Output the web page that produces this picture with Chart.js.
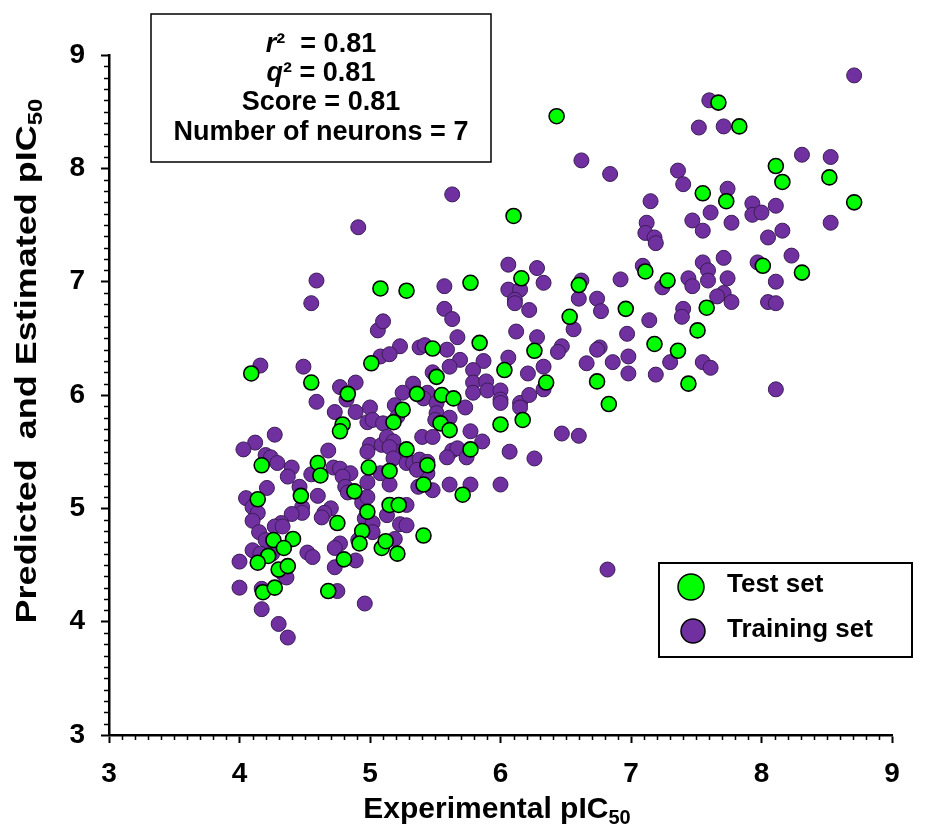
<!DOCTYPE html>
<html>
<head>
<meta charset="utf-8">
<script src="https://cdn.jsdelivr.net/npm/chart.js@4.4.1/dist/chart.umd.min.js"></script>
<style>
  html, body { margin: 0; padding: 0; background: #fff; }
  canvas { display: block; }
</style>
</head>
<body>
<canvas id="chart" width="933" height="830"></canvas>
<script>
// Axis ticks
const xTickValues = [3, 4, 5, 6, 7, 8, 9];
const yTickValues = [3, 4, 5, 6, 7, 8, 9];

// Test set: experimental vs predicted pIC50
const testX = [4.09, 4.55, 4.83, 5.01, 4.79, 4.77, 4.17, 4.60, 4.62, 4.99, 4.88, 4.14, 4.47, 4.75, 4.98, 4.94, 4.92, 5.09, 5.12, 4.26,
  4.41, 4.34, 4.22, 4.14, 4.30, 4.37, 4.80, 4.18, 4.27, 4.68, 5.08, 5.28, 5.77, 6.16, 5.84, 6.26, 5.48, 6.03, 5.51, 5.36,
  5.55, 5.64, 5.25, 5.18, 5.54, 5.61, 6.00, 6.17, 5.28, 5.77, 5.44, 5.15, 5.41, 5.71, 5.15, 5.22, 5.41, 5.21, 6.43, 7.55,
  6.60, 7.11, 7.28, 6.96, 6.53, 7.58, 7.51, 7.18, 7.36, 7.44, 6.35, 6.74, 6.83, 6.10, 7.67, 7.83, 8.11, 8.16, 8.52, 8.71,
  7.73, 8.01, 8.31];
const testY = [6.19, 6.11, 6.01, 6.28, 5.74, 5.68, 5.38, 5.40, 5.29, 5.36, 5.15, 5.08, 5.11, 4.87, 4.97, 4.80, 4.69, 4.65, 4.71, 4.72,
  4.73, 4.65, 4.58, 4.52, 4.46, 4.49, 4.55, 4.26, 4.30, 4.27, 6.94, 6.92, 6.99, 7.03, 6.46, 6.39, 6.41, 6.22, 6.16, 6.01,
  6.00, 5.97, 5.87, 5.76, 5.75, 5.69, 5.74, 5.78, 5.52, 5.52, 5.38, 5.33, 5.21, 5.12, 5.03, 5.03, 4.76, 4.60, 8.46, 7.78,
  6.97, 7.09, 7.01, 6.76, 6.69, 6.77, 6.57, 6.45, 6.39, 6.10, 6.11, 6.12, 5.92, 7.58, 8.58, 8.37, 8.02, 7.88, 7.92, 7.70,
  7.71, 7.14, 7.08];

// Training set: experimental vs estimated pIC50
const trainX = [4.16, 4.49, 4.59, 4.77, 4.89, 4.82, 5.06, 5.08, 4.73, 4.89, 5.00, 4.98, 5.02, 4.27, 4.12, 4.03, 4.20, 4.24, 4.29, 4.40,
  4.37, 4.68, 4.55, 4.72, 4.77, 4.85, 4.79, 5.00, 4.98, 5.09, 4.98, 4.81, 4.83, 4.21, 4.05, 4.10, 4.14, 4.10, 4.15, 4.46,
  4.48, 4.48, 4.40, 4.60, 4.70, 4.65, 4.63, 4.94, 4.98, 4.96, 5.02, 5.02, 4.91, 4.32, 4.27, 4.33, 4.20, 4.10, 4.16, 4.25,
  4.00, 4.33, 4.36, 4.52, 4.56, 4.77, 4.73, 4.89, 4.73, 4.00, 4.17, 4.75, 4.17, 4.30, 4.37, 4.96,
  4.91, 4.59, 4.55, 5.63,
  6.06, 6.28, 6.06, 6.15, 6.11, 6.11, 6.22, 5.57, 5.57, 5.63, 5.10, 5.67, 6.12, 6.28, 5.23, 5.15, 5.38, 5.42, 5.59, 5.69,
  5.87, 6.06, 6.21, 5.79, 5.48, 5.61, 5.79, 5.89, 5.79, 5.90, 6.00, 6.00, 6.00, 6.15, 6.15, 6.22, 6.33, 5.33, 5.25, 5.44,
  5.41, 5.51, 5.73, 5.19, 5.21, 5.10, 5.51, 5.50, 5.61, 5.77, 5.86, 6.07, 6.26, 5.40, 5.48, 5.13, 5.18, 5.23, 5.15, 5.63,
  5.67, 5.59, 5.74, 5.18, 5.28, 5.33, 5.38, 5.44, 5.44, 5.36, 5.08, 5.15, 5.37, 5.48, 5.61, 5.77, 6.00, 5.28,
  5.13, 5.23, 5.28, 5.19,
  6.62, 6.84, 7.60, 7.52, 7.36, 7.40, 7.15, 7.12, 7.11, 7.18, 7.19, 7.47, 7.55, 7.61, 7.55, 7.59, 7.59, 6.33, 6.62, 6.60,
  6.74, 6.77, 6.92, 7.09, 7.24, 7.44, 7.47, 7.14, 6.97, 6.56, 7.40, 7.39, 6.47, 6.44, 6.76, 6.74, 6.66, 6.86, 6.98, 6.98,
  7.19, 7.30, 7.55, 7.61, 6.47, 6.60, 6.33, 6.82,
  8.71, 7.71, 8.31, 8.53, 8.53, 7.74, 7.77, 7.93, 7.93, 8.00, 8.11, 8.16, 8.05, 8.23, 7.97, 8.11, 7.71, 7.74, 7.71, 7.66,
  7.77, 8.05, 8.11, 8.11];
const trainY = [6.26, 6.25, 5.94, 6.07, 6.11, 5.96, 6.57, 6.34, 5.85, 5.85, 5.89, 5.76, 5.78, 5.65, 5.58, 5.52, 5.47, 5.45, 5.40, 5.36,
  5.28, 5.51, 5.30, 5.36, 5.35, 5.31, 5.28, 5.56, 5.50, 5.56, 5.23, 5.19, 5.14, 5.18, 5.09, 5.01, 4.96, 4.89, 4.79, 5.19,
  5.01, 4.96, 4.95, 5.11, 5.00, 4.96, 4.92, 5.05, 5.10, 4.91, 4.87, 4.79, 4.72, 4.87, 4.84, 4.84, 4.72, 4.63, 4.60, 4.60,
  4.53, 4.43, 4.39, 4.61, 4.57, 4.69, 4.65, 4.54, 4.48, 4.30, 4.29, 4.27, 4.11, 3.98, 3.86, 4.16,
  7.48, 7.01, 6.81, 7.77,
  7.15, 7.12, 6.93, 6.93, 6.84, 6.81, 6.75, 6.96, 6.76, 6.67, 6.65, 6.51, 6.56, 6.51, 6.43, 6.36, 6.42, 6.44, 6.40, 6.31,
  6.30, 6.33, 6.19, 6.22, 6.20, 6.25, 6.11, 6.12, 6.02, 6.04, 6.04, 5.96, 5.93, 5.93, 5.89, 6.00, 6.05, 6.10, 6.02, 6.02,
  5.97, 5.93, 5.89, 5.91, 5.81, 5.75, 5.84, 5.78, 5.80, 5.68, 5.59, 5.50, 5.44, 5.63, 5.63, 5.63, 5.59, 5.50, 5.54, 5.51,
  5.53, 5.45, 5.45, 5.44, 5.40, 5.40, 5.43, 5.41, 5.31, 5.34, 5.31, 5.21, 5.19, 5.16, 5.21, 5.21, 5.21, 5.03,
  4.94, 4.86, 4.85, 4.73,
  8.07, 7.95, 8.60, 8.36, 7.98, 7.86, 7.71, 7.52, 7.43, 7.39, 7.34, 7.54, 7.45, 7.61, 7.17, 7.10, 7.01, 6.99, 7.01, 6.85,
  6.85, 6.74, 7.02, 7.14, 6.95, 7.03, 6.96, 6.66, 6.54, 6.58, 6.76, 6.69, 6.43, 6.38, 6.42, 6.40, 6.28, 6.29, 6.34, 6.19,
  6.18, 6.29, 6.29, 6.24, 5.66, 5.64, 6.25, 4.46,
  8.82, 8.37, 8.12, 8.10, 7.52, 7.82, 7.52, 7.69, 7.59, 7.61, 7.67, 7.45, 7.39, 7.23, 7.17, 7.00, 7.21, 7.03, 6.90, 6.87,
  6.82, 6.82, 6.81, 6.05];

// Statistics shown in the box
const statLines = [
  [{ t: 'r', italic: true }, { t: '\u00B2' }, { t: '  = 0.81' }],
  [{ t: 'q', italic: true }, { t: '\u00B2' }, { t: ' = 0.81' }],
  [{ t: 'Score = 0.81' }],
  [{ t: 'Number of neurons = 7' }]
];
const seriesNames = ['Test set', 'Training set'];
const xTitle = ['Experimental pIC', '50'];
const yTitle = ['Predicted  and Estimated pIC', '50'];

const FONT = '"Liberation Sans", Arial, sans-serif';
const GREEN = '#00FF00';
const PURPLE = '#7030A0';

const toPoints = (xs, ys) => xs.map((x, i) => ({ x, y: ys[i] }));

// Title text with subscript, drawn at current origin (centered)
function drawSubText(ctx, parts, size, subSize, subDrop) {
  ctx.font = 'bold ' + size + 'px ' + FONT;
  const w1 = ctx.measureText(parts[0]).width;
  ctx.font = 'bold ' + subSize + 'px ' + FONT;
  const w2 = ctx.measureText(parts[1]).width;
  const start = -(w1 + w2) / 2;
  ctx.textAlign = 'left';
  ctx.textBaseline = 'alphabetic';
  ctx.font = 'bold ' + size + 'px ' + FONT;
  ctx.fillText(parts[0], start, 0);
  ctx.font = 'bold ' + subSize + 'px ' + FONT;
  ctx.fillText(parts[1], start + w1, subDrop);
}

const decorations = {
  id: 'decorations',
  afterDraw(chart) {
    const ctx = chart.ctx;
    const xs = chart.scales.x, ys = chart.scales.y;
    ctx.save();
    ctx.fillStyle = '#000';
    ctx.strokeStyle = '#000';

    // minor ticks every 0.1
    ctx.lineWidth = 1.5;
    ctx.beginPath();
    for (let i = 31; i < 90; i++) {
      if (i % 10 === 0) continue;
      const px = Math.round(xs.getPixelForValue(i / 10)) + 0.5;
      ctx.moveTo(px, xs.top);
      ctx.lineTo(px, xs.top + 5);
      const py = Math.round(ys.getPixelForValue(i / 10)) + 0.5;
      ctx.moveTo(ys.right, py);
      ctx.lineTo(ys.right - 5, py);
    }
    ctx.stroke();

    // axis titles
    ctx.save();
    ctx.translate(497, 818);
    drawSubText(ctx, xTitle, 30, 20, 6);
    ctx.restore();

    ctx.save();
    ctx.translate(36, 361);
    ctx.rotate(-Math.PI / 2);
    ctx.scale(1.2, 1);
    drawSubText(ctx, yTitle, 30, 20, 6);
    ctx.restore();

    // statistics box
    ctx.fillStyle = '#fff';
    ctx.fillRect(151, 14, 340, 148);
    ctx.lineWidth = 1.5;
    ctx.strokeRect(151, 14, 340, 148);
    ctx.fillStyle = '#000';
    ctx.textBaseline = 'alphabetic';
    ctx.textAlign = 'left';
    const baselines = [52, 81, 110, 140];
    statLines.forEach((segs, li) => {
      const fontOf = s => (s.italic ? 'italic bold ' : 'bold ') + '27px ' + FONT;
      let total = 0;
      segs.forEach(s => { ctx.font = fontOf(s); total += ctx.measureText(s.t).width; });
      let x = 321 - total / 2;
      segs.forEach(s => {
        ctx.font = fontOf(s);
        ctx.fillText(s.t, x, baselines[li]);
        x += ctx.measureText(s.t).width;
      });
    });

    // legend
    ctx.fillStyle = '#fff';
    ctx.fillRect(659, 563, 253, 94);
    ctx.lineWidth = 2;
    ctx.strokeRect(659, 563, 253, 94);
    const ds = chart.data.datasets;
    const rows = [{ cx: 691, cy: 587, r: 13, ty: 585 }, { cx: 693, cy: 631, r: 12, ty: 630 }];
    rows.forEach((row, i) => {
      ctx.beginPath();
      ctx.arc(row.cx, row.cy, row.r, 0, Math.PI * 2);
      ctx.fillStyle = ds[i].backgroundColor;
      ctx.fill();
      ctx.lineWidth = 1.5;
      ctx.strokeStyle = '#000';
      ctx.stroke();
      ctx.fillStyle = '#000';
      ctx.font = 'bold 26px ' + FONT;
      ctx.textBaseline = 'middle';
      ctx.fillText(ds[i].label, 727, row.ty);
    });
    ctx.restore();
  }
};

const axisCommon = (values, pad) => ({
  type: 'linear',
  min: 3,
  max: 9,
  afterBuildTicks: s => { s.ticks = values.map(v => ({ value: v })); },
  grid: {
    display: true,
    drawOnChartArea: false,
    drawTicks: true,
    tickLength: 8,
    tickWidth: 2,
    tickColor: '#000'
  },
  border: { display: true, color: '#000', width: 2.5 },
  ticks: {
    color: '#000',
    font: { family: FONT, weight: 'bold', size: 28 },
    padding: pad,
    callback: v => String(v)
  }
});

new Chart(document.getElementById('chart'), {
  type: 'scatter',
  data: {
    datasets: [
      {
        label: seriesNames[0],
        data: toPoints(testX, testY),
        backgroundColor: GREEN,
        borderColor: '#000',
        borderWidth: 1.6,
        pointRadius: 7.5,
        pointHoverRadius: 7.5
      },
      {
        label: seriesNames[1],
        data: toPoints(trainX, trainY),
        backgroundColor: PURPLE,
        borderColor: '#3a1d55',
        borderWidth: 1,
        pointRadius: 7.5,
        pointHoverRadius: 7.5
      }
    ]
  },
  options: {
    responsive: false,
    animation: false,
    devicePixelRatio: 1,
    layout: { padding: { top: 55, right: 41, left: 0, bottom: 0 } },
    plugins: { legend: { display: false }, tooltip: { enabled: false } },
    scales: {
      x: Object.assign(axisCommon(xTickValues, 14), { afterFit: s => { s.height = 95; } }),
      y: Object.assign(axisCommon(yTickValues, 16), { afterFit: s => { s.width = 109; } })
    }
  },
  plugins: [decorations]
});
</script>
</body>
</html>
